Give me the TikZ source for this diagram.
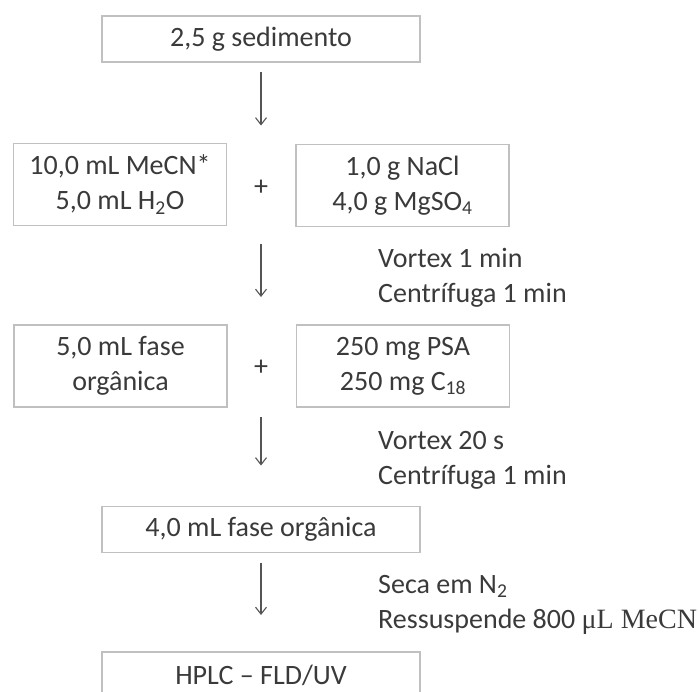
\documentclass[tikz,border=0pt]{standalone}
\usepackage{fontspec}
\setmainfont{Carlito}
\newfontfamily\timesfont{Liberation Serif}
\usetikzlibrary{arrows.meta}
\definecolor{boxgray}{HTML}{C0C0C0}
\definecolor{textgray}{HTML}{3A3A3A}
\definecolor{arrowgray}{HTML}{555555}
\tikzset{
    stepnode/.style = {
        align=center,
        rectangle,
        draw=boxgray,
        line width=1.2pt,
        text=textgray,
        font=\fontsize{28}{35}\selectfont,
        inner sep=0pt,
        outer sep=0pt
    },
    widenode/.style = {
        stepnode,
        minimum width=318pt,
        minimum height=46pt
    },
    pairnode/.style = {
        stepnode,
        minimum width=213pt,
        minimum height=82pt
    },
    notenode/.style = {
        align=left,
        anchor=west,
        text=textgray,
        font=\fontsize{28}{35}\selectfont,
        inner sep=0pt
    },
    flowarrow/.style = {
        draw=arrowgray,
        line width=1.1pt,
        -{Straight Barb[length=7pt,width=11pt]}
    }
}

\begin{document}
\begin{tikzpicture}[x=1pt,y=-1pt]
    \useasboundingbox (0,0) rectangle (698,691);
    % boxes of the flow
    \node [widenode] (sample) at (261,39) {2,5 g sedimento};
    \node [pairnode] (solvent) at (120,184.5) {10,0 mL MeCN*\\5,0 mL H\textsubscript{2}O};
    \node [pairnode] (salts) at (402.5,185.5) {1,0 g NaCl\\4,0 g MgSO\textsubscript{4}};
    \node [stepnode, draw=none] (plusa) at (261,188) {+};
    \node [pairnode] (phase) at (120.5,366) {5,0 mL fase\\orgânica};
    \node [pairnode] (sorbent) at (403,366) {250 mg PSA\\250 mg C\textsubscript{18}};
    \node [stepnode, draw=none] (plusb) at (261,368) {+};
    \node [widenode] (extract) at (261,529.5) {4,0 mL fase orgânica};
    \node [widenode] (hplc) at (261,675) {HPLC -- FLD/UV};
    % conditions beside the arrows
    \node [notenode] (shakea) at (378,277.5) {Vortex 1 min\\Centrífuga 1 min};
    \node [notenode] (shakeb) at (378,460.5) {Vortex 20 s\\Centrífuga 1 min};
    \node [notenode] (drying) at (378,605) {Seca em N\textsubscript{2}\\Ressuspende 800 {\timesfont μL MeCN}};
    % arrows
    \draw [flowarrow, shorten <=10pt, shorten >=18pt] (sample.south) -- (sample.south |- solvent.north);
    \draw [flowarrow, shorten <=17pt, shorten >=28pt] (plusa |- salts.south) -- (plusa |- sorbent.north);
    \draw [flowarrow, shorten <=10pt, shorten >=41pt] (plusb |- sorbent.south) -- (extract.north);
    \draw [flowarrow, shorten <=10pt, shorten >=37pt] (extract.south) -- (hplc.north);
\end{tikzpicture}
\end{document}
